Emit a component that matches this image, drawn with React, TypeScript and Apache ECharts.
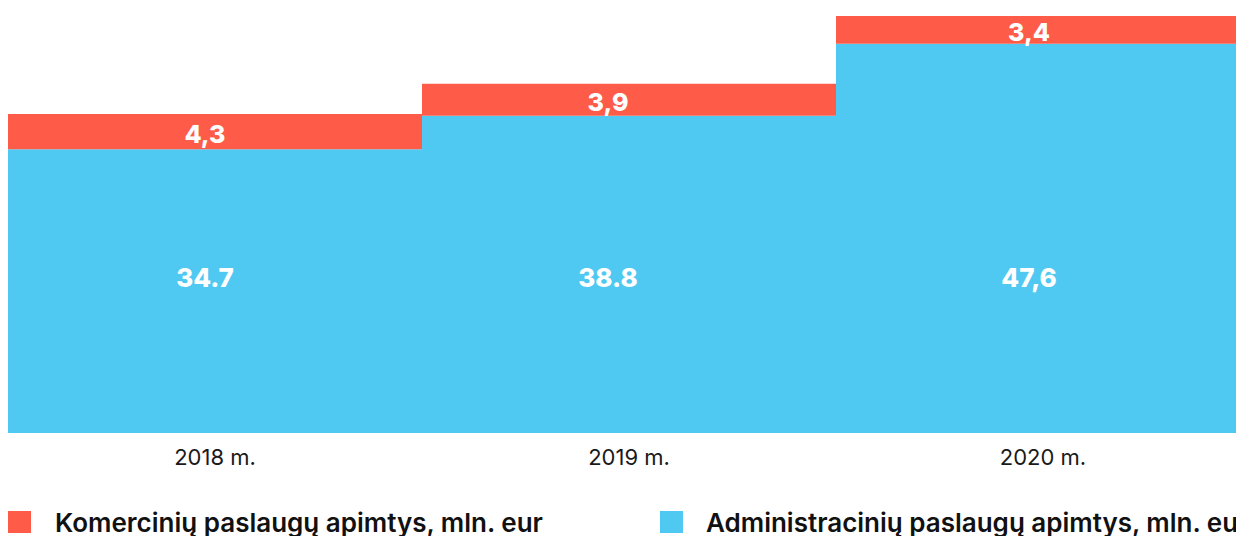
import React, { useEffect, useRef } from "react";
import * as echarts from "echarts";

const categories = ["2018 m.", "2019 m.", "2020 m."];
const adminValues = [34.7, 38.8, 47.6];
const adminLabels = ["34.7", "38.8", "47,6"];
const komercValues = [4.3, 3.9, 3.4];
const komercLabels = ["4,3", "3,9", "3,4"];
const komercName = "Komercinių paslaugų apimtys, mln. eur";
const adminName = "Administracinių paslaugų apimtys, mln. eur";

// horizontal nudges of the value labels (styling only)
const labelShiftX = [-10, -21, -14];

const RED = "#FE5B48";
const BLUE = "#50C9F2";
const FONT = "Inter, 'Noto Sans', sans-serif";

export default function App() {
  const ref = useRef<HTMLDivElement>(null);
  useEffect(() => {
    if (!ref.current) return;
    const chart = echarts.init(ref.current, undefined, { renderer: "svg" });
    const legendText = { fontFamily: FONT, fontSize: 26, fontWeight: 600, color: "#111", lineHeight: 24 };
    chart.setOption({
      animation: false,
      grid: { left: 0, right: 0, top: 8, bottom: 103, containLabel: false },
      legend: [
        {
          data: [komercName],
          left: 0,
          top: 501,
          padding: 0,
          icon: "rect",
          itemWidth: 23,
          itemHeight: 22,
          itemGap: 0,
          textStyle: { ...legendText, padding: [0, 0, 0, 19] },
          selectedMode: false,
        },
        {
          data: [adminName],
          left: 652,
          top: 501,
          padding: 0,
          icon: "rect",
          itemWidth: 23,
          itemHeight: 22,
          itemGap: 0,
          textStyle: { ...legendText, padding: [0, 0, 0, 18] },
          selectedMode: false,
        },
      ],
      xAxis: {
        type: "category",
        data: categories,
        axisLine: { show: false },
        axisTick: { show: false },
        axisLabel: { fontFamily: FONT, fontSize: 22, color: "#1a1a1a", margin: 13 },
      },
      yAxis: {
        type: "value",
        min: 0,
        max: "dataMax",
        show: false,
        splitLine: { show: false },
      },
      series: [
        {
          name: adminName,
          type: "bar",
          stack: "total",
          data: adminValues.map((v, i) => ({ value: v, label: { offset: [labelShiftX[i], 0] } })),
          barWidth: "100%",
          barCategoryGap: 0,
          itemStyle: { color: BLUE },
          label: {
            show: true,
            position: "insideBottom",
            distance: 143,
            color: "#fff",
            fontFamily: FONT,
            fontSize: 26,
            fontWeight: 800,
            formatter: (p: any) => adminLabels[p.dataIndex],
          },
        },
        {
          name: komercName,
          type: "bar",
          stack: "total",
          data: komercValues.map((v, i) => ({ value: v, label: { offset: [labelShiftX[i], 2] } })),
          barWidth: "100%",
          barCategoryGap: 0,
          itemStyle: { color: RED },
          label: {
            show: true,
            position: "inside",
            color: "#fff",
            fontFamily: FONT,
            fontSize: 25,
            fontWeight: 800,
            formatter: (p: any) => komercLabels[p.dataIndex],
          },
        },
      ],
    });
    return () => chart.dispose();
  }, []);
  return (
    <div style={{ width: 1236, height: 528, overflow: "hidden" }}>
      <div ref={ref} style={{ width: 1242, height: 528 }} />
    </div>
  );
}
